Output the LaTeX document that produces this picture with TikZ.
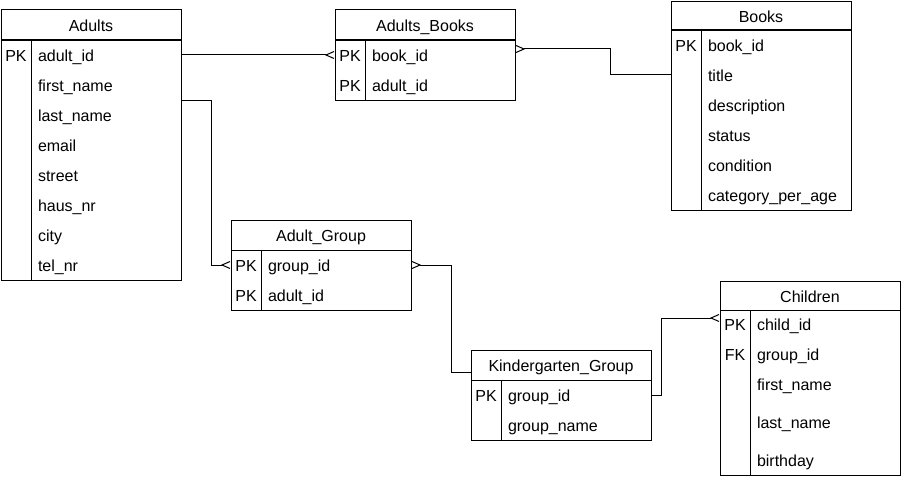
\documentclass[tikz,border=0pt]{standalone}
\usepackage{fontspec}
\setmainfont{Liberation Sans}
\usetikzlibrary{
    arrows.meta,
    calc,
    positioning
}
\tikzset{
    crow/.tip={Straight Barb[reversed, length=8pt, width=7pt, line width=1pt]},
    head/.style={draw, minimum width=180pt, minimum height=30pt, inner sep=0pt},
    body/.style={draw, anchor=north west, minimum width=180pt, inner sep=0pt},
    keycol/.style={draw, anchor=north west, minimum width=30pt, inner sep=0pt},
    key/.style={minimum width=30pt, minimum height=30pt, inner sep=0pt},
    field/.style={minimum width=150pt, minimum height=30pt, inner xsep=7pt, inner ysep=0pt,
        text width=136pt, align=left},
    link/.style={draw, line width=1pt}
}

\begin{document}
\begin{tikzpicture}[x=1pt, y=-1pt, line width=1pt, font=\fontsize{16}{18}\selectfont,
    every node/.style={text height=14.5pt, text depth=1pt}]
    \useasboundingbox (0,0) rectangle (901,476);

    % Adults
    \begin{scope}[shift={(1,10)}]
        \node[body, minimum height=240pt] (ab) at (0,30) {};
        \node[keycol, minimum height=240pt] (acol) at (0,30) {};
        \node[head] (adults) at (90,15) {Adults};
        \node[key] (ak1) at (15,45) {PK};
        \node[field] (a1) at (105,45) {adult\_id};
        \node[field] (a2) at (105,75) {first\_name};
        \node[field] (a3) at (105,105) {last\_name};
        \node[field] (a4) at (105,135) {email};
        \node[field] (a5) at (105,165) {street};
        \node[field] (a6) at (105,195) {haus\_nr};
        \node[field] (a7) at (105,225) {city};
        \node[field] (a8) at (105,255) {tel\_nr};
    \end{scope}

    % Adults_Books
    \begin{scope}[shift={(335,10)}]
        \node[body, minimum height=60pt] (abb) at (0,30) {};
        \node[keycol, minimum height=60pt] (abcol) at (0,30) {};
        \node[head] (adultsbooks) at (90,15) {Adults\_Books};
        \node[key] (abk1) at (15,45) {PK};
        \node[key] (abk2) at (15,75) {PK};
        \node[field] (ab1) at (105,45) {book\_id};
        \node[field] (ab2) at (105,75) {adult\_id};
    \end{scope}

    % Books
    \begin{scope}[shift={(671,2)}]
        \node[body, minimum height=180pt] (bb) at (0,28) {};
        \node[keycol, minimum height=180pt] (bcol) at (0,28) {};
        \node[head, minimum height=28pt] (books) at (90,14) {Books};
        \node[key] (bk1) at (15,43) {PK};
        \node[field] (b1) at (105,43) {book\_id};
        \node[field] (b2) at (105,73) {title};
        \node[field] (b3) at (105,103) {description};
        \node[field] (b4) at (105,133) {status};
        \node[field] (b5) at (105,163) {condition};
        \node[field] (b6) at (105,193) {category\_per\_age};
    \end{scope}

    % Adult_Group
    \begin{scope}[shift={(231,220)}]
        \node[body, minimum height=60pt] (gb) at (0,30) {};
        \node[keycol, minimum height=60pt] (gcol) at (0,30) {};
        \node[head] (adultgroup) at (90,15) {Adult\_Group};
        \node[key] (gk1) at (15,45) {PK};
        \node[key] (gk2) at (15,75) {PK};
        \node[field] (g1) at (105,45) {group\_id};
        \node[field] (g2) at (105,75) {adult\_id};
    \end{scope}

    % Kindergarten_Group
    \begin{scope}[shift={(471,350)}]
        \node[body, minimum height=60pt] (kb) at (0,30) {};
        \node[keycol, minimum height=60pt] (kcol) at (0,30) {};
        \node[head] (kg) at (90,15) {Kindergarten\_Group};
        \node[key] (kk1) at (15,45) {PK};
        \node[field] (k1) at (105,45) {group\_id};
        \node[field] (k2) at (105,75) {group\_name};
    \end{scope}

    % Children
    \begin{scope}[shift={(720,281)}]
        \node[body, minimum height=165pt] (cb) at (0,29) {};
        \node[keycol, minimum height=165pt] (ccol) at (0,29) {};
        \node[head, minimum height=29pt] (children) at (90,14.5) {Children};
        \node[key] (ck1) at (15,43) {PK};
        \node[key] (ck2) at (15,73) {FK};
        \node[field] (c1) at (105,43) {child\_id};
        \node[field] (c2) at (105,73) {group\_id};
        \node[field] (c3) at (105,103) {first\_name};
        \node[field] (c4) at (105,141) {last\_name};
        \node[field] (c5) at (105,179) {birthday};
    \end{scope}

    % relations
    \draw[link, -{crow}] (a1.east) -- (abk1.west);
    \draw[link, -{crow}] (a2.south east) -- ++(30,0) |- (gk1.west);
    \draw[link, {crow}-] ([yshift=6pt]ab1.east) -- ++(95,0) |- (bcol.west |- b2);
    \draw[link, {crow}-] (g1.east) -- ++(40,0) |- ([yshift=-7pt]kg.west);
    \draw[link, -{crow}] (k1.east) -- ++(10,0) |- ([yshift=6pt]ck1.west);
\end{tikzpicture}
\end{document}
